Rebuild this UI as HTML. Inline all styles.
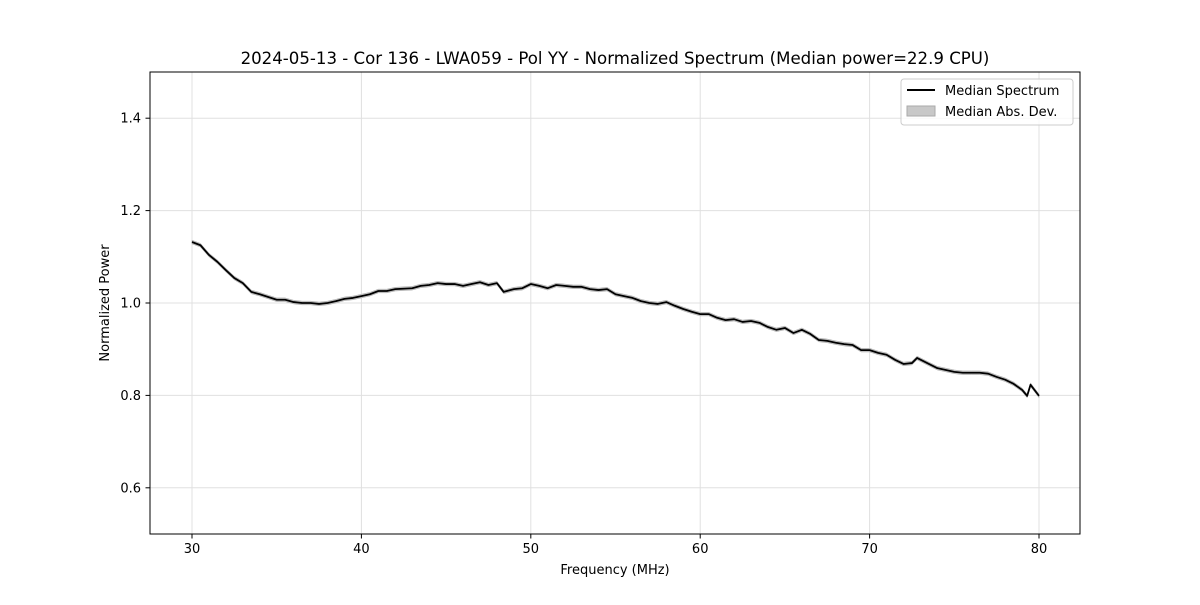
<!DOCTYPE html>
<html><head><meta charset="utf-8"><style>
body{margin:0;background:#fff;font-family:"Liberation Sans","DejaVu Sans",sans-serif}
svg text{font-family:"DejaVu Sans","Liberation Sans",sans-serif;fill:#000}
</style></head><body>
<svg id="chart" width="1200" height="600" xmlns="http://www.w3.org/2000/svg">
<rect width="1200" height="600" fill="#fff"/>
<g id="grid"></g>
<g id="band"></g>
<g id="line"></g>
<rect x="150" y="72" width="930" height="462" fill="none" stroke="#000" stroke-width="1"/>
<g id="ticks"></g>
<text x="615" y="64" font-size="16.6" text-anchor="middle">2024-05-13 - Cor 136 - LWA059 - Pol YY - Normalized Spectrum (Median power=22.9 CPU)</text>
<text x="615" y="574" font-size="13" text-anchor="middle">Frequency (MHz)</text>
<text transform="translate(109,303) rotate(-90)" font-size="13" text-anchor="middle">Normalized Power</text>
<g>
<rect x="901" y="79" width="172" height="46" rx="3" fill="#fff" fill-opacity="0.8" stroke="#ccc"/>
<line x1="907" y1="90" x2="935" y2="90" stroke="#000" stroke-width="2"/>
<text x="945" y="95" font-size="13">Median Spectrum</text>
<rect x="907" y="106" width="28" height="10" fill="#c8c8c8" stroke="#aaa"/>
<text x="945" y="116" font-size="13">Median Abs. Dev.</text>
</g>
</svg>
<script>
const freqs=[30,30.5,31,31.5,32,32.5,33,33.5,34,34.5,35,35.5,36,36.5,37,37.5,38,38.5,39,39.5,40,40.5,41,41.5,42,43,43.5,44,44.5,45,45.5,46,46.5,47,47.5,48,48.4,49,49.5,50,50.5,51,51.5,52,52.5,53,53.5,54,54.5,55,55.5,56,56.5,57,57.5,58,58.5,59,59.5,60,60.5,61,61.5,62,62.5,63,63.5,64,64.5,65,65.5,66,66.5,67,67.5,68,68.5,69,69.5,70,70.5,71,71.5,72,72.5,72.8,73.5,74,74.5,75,75.5,76,76.5,77,77.5,78,78.5,79,79.3,79.5,80];
const power=[1.132,1.125,1.104,1.089,1.071,1.054,1.043,1.024,1.019,1.013,1.007,1.007,1.002,1.000,1.000,0.998,1.000,1.004,1.009,1.011,1.015,1.019,1.026,1.026,1.030,1.032,1.037,1.039,1.043,1.041,1.041,1.037,1.041,1.045,1.039,1.043,1.024,1.030,1.032,1.041,1.037,1.032,1.039,1.037,1.035,1.035,1.030,1.028,1.030,1.019,1.015,1.011,1.004,1.000,0.998,1.002,0.994,0.987,0.981,0.976,0.976,0.968,0.963,0.965,0.959,0.961,0.957,0.948,0.942,0.946,0.935,0.942,0.933,0.920,0.918,0.914,0.911,0.909,0.898,0.898,0.892,0.888,0.877,0.868,0.870,0.881,0.868,0.859,0.855,0.851,0.849,0.849,0.849,0.847,0.840,0.834,0.825,0.812,0.799,0.823,0.799];
const mad=0.004;
const xTicks=[30,40,50,60,70,80];
const yTicks=[0.6,0.8,1.0,1.2,1.4];
const yLabels=["0.6","0.8","1.0","1.2","1.4"];
const X=f=>150+(f-27.52)/(82.42-27.52)*930;
const Y=v=>534-(v-0.5)/1.0*462;
const ns="http://www.w3.org/2000/svg";
function mk(t,a,p){const e=document.createElementNS(ns,t);for(const k in a)e.setAttribute(k,a[k]);p.appendChild(e);return e;}
const grid=document.getElementById('grid'),ticks=document.getElementById('ticks');
xTicks.forEach(t=>{const x=X(t);
 const g=mk('line',{x1:x,x2:x,y1:72,y2:534,stroke:'#e0e0e0','stroke-width':1},grid);
 
 
 const k=mk('line',{x1:x,x2:x,y1:534,y2:538.5,stroke:'#000'},ticks);
 
 
 const l=mk('text',{x:x,y:553,'font-size':13,'text-anchor':'middle'},ticks);l.textContent=t;
 
 
});
yTicks.forEach((t,i)=>{const y=Y(t);
 const g=mk('line',{x1:150,x2:1080,y1:y,y2:y,stroke:'#e0e0e0','stroke-width':1},grid);
 
 
 const k=mk('line',{x1:145.5,x2:150,y1:y,y2:y,stroke:'#000'},ticks);
 
 
 const l=mk('text',{x:141,y:y+4.5,'font-size':13,'text-anchor':'end'},ticks);l.textContent=yLabels[i];
 
 
});
let up=freqs.map((f,i)=>X(f)+','+Y(power[i]+mad));
let dn=freqs.map((f,i)=>X(f)+','+Y(power[i]-mad)).reverse();
const b=mk('polygon',{points:up.concat(dn).join(' '),fill:'#c8c8c8',stroke:'#aaa','stroke-width':0.5},document.getElementById('band'));


const ln=mk('polyline',{points:freqs.map((f,i)=>X(f)+','+Y(power[i])).join(' '),fill:'none',stroke:'#000','stroke-width':1.8,'stroke-linejoin':'round'},document.getElementById('line'));


</script>
</body></html>
